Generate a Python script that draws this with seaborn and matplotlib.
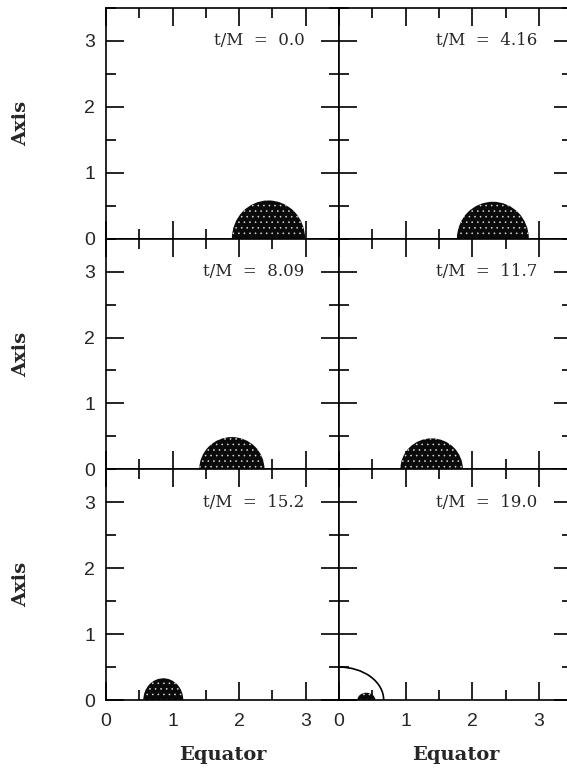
import pandas as pd
import matplotlib
matplotlib.use("Agg")
import matplotlib.pyplot as plt
from matplotlib.patches import Ellipse, Arc
from matplotlib.ticker import MultipleLocator
import seaborn as sns

# one panel per time slice: t/M, centre of the cloud on the equator, half-width, height
times = ["0.0", "4.16", "8.09", "11.7", "15.2", "19.0"]
centers = [2.44, 2.31, 1.89, 1.39, 0.86, 0.41]
half_widths = [0.55, 0.54, 0.49, 0.47, 0.30, 0.135]
heights = [0.58, 0.56, 0.49, 0.47, 0.33, 0.11]
# horizon-like arc drawn in the last panel (semi-axes along equator / axis)
arc_panel = "19.0"
arc_a, arc_b = 0.67, 0.50

xticks = [0, 1, 2, 3]
yticks = [0, 1, 2, 3]

df = pd.DataFrame({"t": times, "x0": centers, "rx": half_widths, "ry": heights})

sns.set_style("ticks")
plt.rcParams["font.family"] = ["Liberation Sans", "DejaVu Sans"]
plt.rcParams["hatch.linewidth"] = 0.4


def draw_cloud(data, **kws):
    ax = plt.gca()
    row = data.iloc[0]
    ax.add_patch(Ellipse((row.x0, 0), 2 * row.rx, 2 * row.ry,
                         facecolor="#0a0a0a", edgecolor="none"))
    ax.add_patch(Ellipse((row.x0, 0), 2 * row.rx, 2 * row.ry,
                         facecolor="none", edgecolor="#dddddd", hatch="...", lw=0))
    if row.t == arc_panel:
        ax.add_patch(Arc((0, 0), 2 * arc_a, 2 * arc_b, theta1=0, theta2=90,
                         color="black", lw=1.2))
    ax.text(2.98, 3.0, "t/M  =  " + row.t, ha="right", va="center",
            fontsize=12, family="DejaVu Serif")


g = sns.FacetGrid(df, col="t", col_wrap=2, col_order=times, despine=False,
                  sharex=True, sharey=True, height=3)
g.map_dataframe(draw_cloud)
g.set_titles("")
g.figure.set_size_inches(5.67, 7.70)
g.figure.subplots_adjust(left=0.187, right=1.009, bottom=0.0909, top=0.9896,
                         wspace=0, hspace=0)

for i, ax in enumerate(g.axes.flat):
    ax.set_xlim(0, 3.5)
    ax.set_ylim(0, 3.5)
    ax.set_xticks(xticks)
    ax.set_yticks(yticks)
    ax.xaxis.set_minor_locator(MultipleLocator(0.5))
    ax.yaxis.set_minor_locator(MultipleLocator(0.5))
    ax.tick_params(which="both", direction="in", top=True, right=True,
                   color="black", width=1.2)
    ax.tick_params(which="major", length=13)
    ax.tick_params(which="minor", length=7)
    ax.tick_params(axis="y", pad=8, labelsize=14)
    ax.tick_params(axis="x", pad=9, labelsize=14)
    for s in ax.spines.values():
        s.set_color("black")
        s.set_linewidth(1.2)
    left = i % 2 == 0
    bottom = i >= 4
    ax.tick_params(labelleft=left, labelbottom=bottom)
    if left:
        ax.set_ylabel("Axis", fontsize=14, fontweight="bold", family="DejaVu Serif")
        ax.yaxis.set_label_coords(-0.325, 0.5)
    else:
        ax.set_ylabel("")
    if bottom:
        ax.set_xlabel("Equator", fontsize=14, fontweight="bold", family="DejaVu Serif")
        ax.xaxis.set_label_coords(0.5, -0.20)
    else:
        ax.set_xlabel("")

g.figure.savefig("out.png", dpi=100)
